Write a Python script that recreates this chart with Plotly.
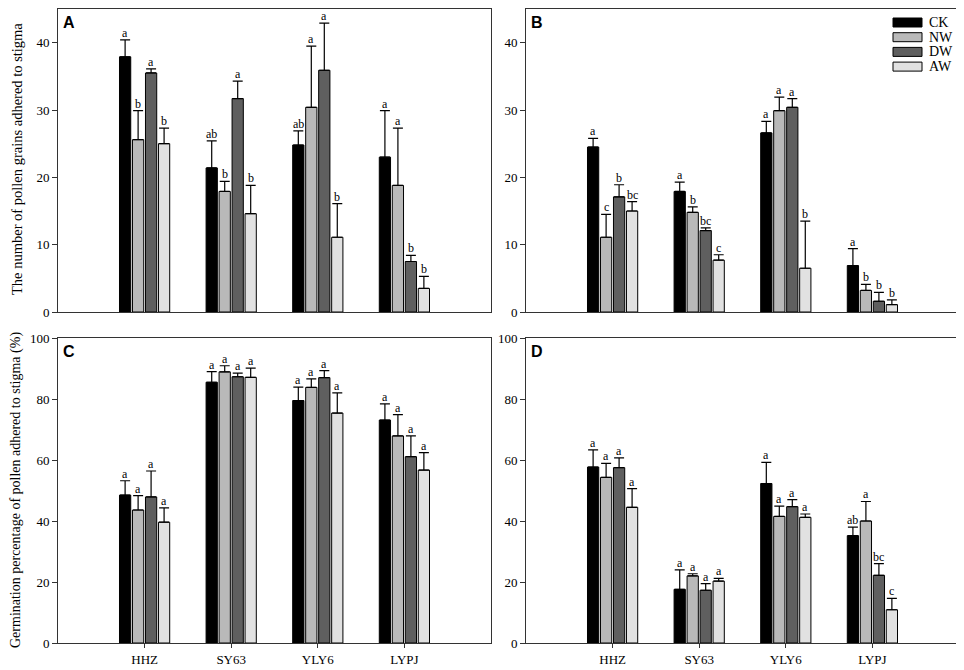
import plotly.graph_objects as go
from plotly.subplots import make_subplots

# cultivars on the x axis
cultivars = ["HHZ", "SY63", "YLY6", "LYPJ"]
treatments = ["CK", "NW", "DW", "AW"]
colors = {"CK": "#000000", "NW": "#b9b9b9", "DW": "#5f5f5f", "AW": "#e1e1e1"}

# panel A: number of pollen grains adhered to stigma (mean, upper error)
a_mean = {
    "CK": [37.9, 21.4, 24.8, 23.0],
    "NW": [25.6, 17.9, 30.4, 18.8],
    "DW": [35.5, 31.7, 35.9, 7.5],
    "AW": [25.0, 14.6, 11.1, 3.5],
}
a_top = {
    "CK": [40.4, 25.4, 26.9, 29.9],
    "NW": [29.9, 19.4, 39.5, 27.3],
    "DW": [36.1, 34.3, 42.9, 8.4],
    "AW": [27.3, 18.8, 16.1, 5.3],
}
a_lab = {
    "CK": ["a", "ab", "ab", "a"],
    "NW": ["b", "b", "a", "a"],
    "DW": ["a", "a", "a", "b"],
    "AW": ["b", "b", "b", "b"],
}

# panel B
b_mean = {
    "CK": [24.5, 17.9, 26.6, 6.9],
    "NW": [11.1, 14.8, 29.9, 3.2],
    "DW": [17.1, 12.1, 30.4, 1.6],
    "AW": [15.0, 7.7, 6.5, 1.1],
}
b_top = {
    "CK": [25.8, 19.3, 28.3, 9.4],
    "NW": [14.5, 15.6, 31.9, 4.1],
    "DW": [18.9, 12.5, 31.7, 2.9],
    "AW": [16.4, 8.5, 13.5, 1.8],
}
b_lab = {
    "CK": ["a", "a", "a", "a"],
    "NW": ["c", "b", "a", "b"],
    "DW": ["b", "bc", "a", "b"],
    "AW": ["bc", "c", "b", "b"],
}

# panel C: germination percentage (%)
c_mean = {
    "CK": [48.5, 85.5, 79.5, 73.1],
    "NW": [43.6, 88.9, 83.8, 67.9],
    "DW": [47.9, 87.3, 87.0, 61.1],
    "AW": [39.6, 87.1, 75.4, 56.7],
}
c_top = {
    "CK": [53.2, 89.0, 83.9, 78.4],
    "NW": [48.3, 90.9, 86.6, 74.9],
    "DW": [56.4, 88.5, 89.3, 67.9],
    "AW": [44.3, 90.1, 82.0, 62.4],
}
c_lab = {t: ["a", "a", "a", "a"] for t in treatments}

# panel D
d_mean = {
    "CK": [57.7, 17.6, 52.3, 35.2],
    "NW": [54.3, 22.0, 41.5, 40.0],
    "DW": [57.5, 17.3, 44.7, 22.2],
    "AW": [44.5, 20.3, 41.2, 10.9],
}
d_top = {
    "CK": [63.3, 24.0, 59.2, 38.0],
    "NW": [58.9, 22.7, 44.9, 46.4],
    "DW": [60.7, 19.5, 47.0, 26.0],
    "AW": [50.6, 21.2, 42.3, 14.6],
}
d_lab = {
    "CK": ["a", "a", "a", "ab"],
    "NW": ["a", "a", "a", "a"],
    "DW": ["a", "a", "a", "bc"],
    "AW": ["a", "a", "a", "c"],
}

SERIF = "Liberation Serif"
SANS = "Liberation Sans"
BAR_W = 0.13
STEP = 0.15
START = -0.29

# the page body adds 8px around the figure, so lay out in page pixels minus 8
OFF = 8
FW, FH = 964 - OFF, 670 - OFF
ML, MR, MT, MB = 58 - OFF, 5, 1, 27
PW, PH = FW - ML - MR, FH - MT - MB


def px_x(x):
    return (x - OFF - ML) / PW


def px_y(y):
    return (FH - MB - (y - OFF)) / PH


left_x = [px_x(58), px_x(491)]
right_x = [px_x(526), 1]
top_y = [px_y(312), 1]
bot_y = [0, px_y(338)]

fig = make_subplots(rows=2, cols=2)

panels = [
    ("A", 1, 1, a_mean, a_top, a_lab),
    ("B", 1, 2, b_mean, b_top, b_lab),
    ("C", 2, 1, c_mean, c_top, c_lab),
    ("D", 2, 2, d_mean, d_top, d_lab),
]
xpos = [1, 2, 3, 4]

for name, r, c, mean, top, lab in panels:
    for i, t in enumerate(treatments):
        off = START + i * STEP
        fig.add_trace(
            go.Bar(
                x=xpos,
                y=mean[t],
                width=BAR_W,
                offset=off,
                name=t,
                marker=dict(color=colors[t], line=dict(color="black", width=1)),
                error_y=dict(
                    type="data",
                    symmetric=False,
                    array=[tp - m for tp, m in zip(top[t], mean[t])],
                    arrayminus=[0] * 4,
                    color="black",
                    thickness=1.2,
                    width=5,
                ),
                showlegend=False,
            ),
            row=r,
            col=c,
        )
        for k in range(4):
            fig.add_annotation(
                x=xpos[k] + off + BAR_W / 2,
                y=top[t][k],
                text=lab[t][k],
                showarrow=False,
                xanchor="center",
                yanchor="bottom",
                yshift=-2,
                font=dict(family=SERIF, size=12, color="#000000"),
                row=r,
                col=c,
            )

axis_common = dict(
    showline=True,
    linecolor="#333333",
    linewidth=1,
    mirror=True,
    showgrid=False,
    zeroline=False,
    automargin=False,
)

fig.update_xaxes(range=[0, 5], **axis_common)
fig.update_yaxes(
    ticks="outside",
    ticklen=5,
    tickcolor="#333333",
    tickfont=dict(family=SERIF, size=13, color="black"),
    **axis_common,
)
for c in (1, 2):
    fig.update_xaxes(showticklabels=False, ticks="", row=1, col=c)
    fig.update_xaxes(
        tickmode="array",
        tickvals=xpos,
        ticktext=cultivars,
        ticks="outside",
        ticklen=4,
        tickcolor="#333333",
        tickfont=dict(family=SERIF, size=13, color="black"),
        row=2,
        col=c,
    )

fig.update_xaxes(domain=left_x, row=1, col=1)
fig.update_xaxes(domain=right_x, row=1, col=2)
fig.update_xaxes(domain=left_x, row=2, col=1)
fig.update_xaxes(domain=right_x, row=2, col=2)
fig.update_yaxes(domain=top_y, range=[0, 45], tickvals=[0, 10, 20, 30, 40], row=1, col=1)
fig.update_yaxes(domain=top_y, range=[0, 45], tickvals=[0, 10, 20, 30, 40], row=1, col=2)
fig.update_yaxes(domain=bot_y, range=[0, 100], tickvals=[0, 20, 40, 60, 80, 100], row=2, col=1)
fig.update_yaxes(domain=bot_y, range=[0, 100], tickvals=[0, 20, 40, 60, 80, 100], row=2, col=2)

# y axis titles placed as rotated text
fig.add_annotation(
    x=px_x(17),
    y=px_y(159),
    xref="paper",
    yref="paper",
    xanchor="center",
    yanchor="middle",
    text="The number of pollen grains adhered to stigma",
    textangle=-90,
    showarrow=False,
    font=dict(family=SERIF, size=14.5, color="black"),
)
fig.add_annotation(
    x=px_x(16),
    y=px_y(490),
    xref="paper",
    yref="paper",
    xanchor="center",
    yanchor="middle",
    text="Germination percentage of pollen adhered to stigma (%)",
    textangle=-90,
    showarrow=False,
    font=dict(family=SERIF, size=14, color="black"),
)

# panel letters
axis_ids = {"A": "", "B": "2", "C": "3", "D": "4"}
for name, ax in axis_ids.items():
    fig.add_annotation(
        x=0.008,
        y=0.99,
        xref=f"x{ax} domain",
        yref=f"y{ax} domain",
        text=f"<b>{name}</b>",
        showarrow=False,
        xanchor="left",
        yanchor="top",
        font=dict(family=SANS, size=16, color="black"),
    )

# legend drawn inside panel B
for i, t in enumerate(treatments):
    yc = px_y(22.5 + i * 14.7)
    fig.add_shape(
        type="rect",
        xref="paper",
        yref="paper",
        x0=px_x(893),
        x1=px_x(922),
        y0=yc - 4.5 / PH,
        y1=yc + 4.5 / PH,
        fillcolor=colors[t],
        line=dict(color="black", width=1),
    )
    fig.add_annotation(
        x=px_x(927),
        y=yc,
        xref="paper",
        yref="paper",
        text=t,
        showarrow=False,
        xanchor="left",
        yanchor="middle",
        font=dict(family=SERIF, size=14, color="black"),
    )

fig.update_layout(
    width=FW,
    height=FH,
    margin=dict(l=ML, r=MR, t=MT, b=MB, autoexpand=False),
    paper_bgcolor="white",
    plot_bgcolor="white",
    barmode="overlay",
    showlegend=False,
)

fig.write_html("out.html")
